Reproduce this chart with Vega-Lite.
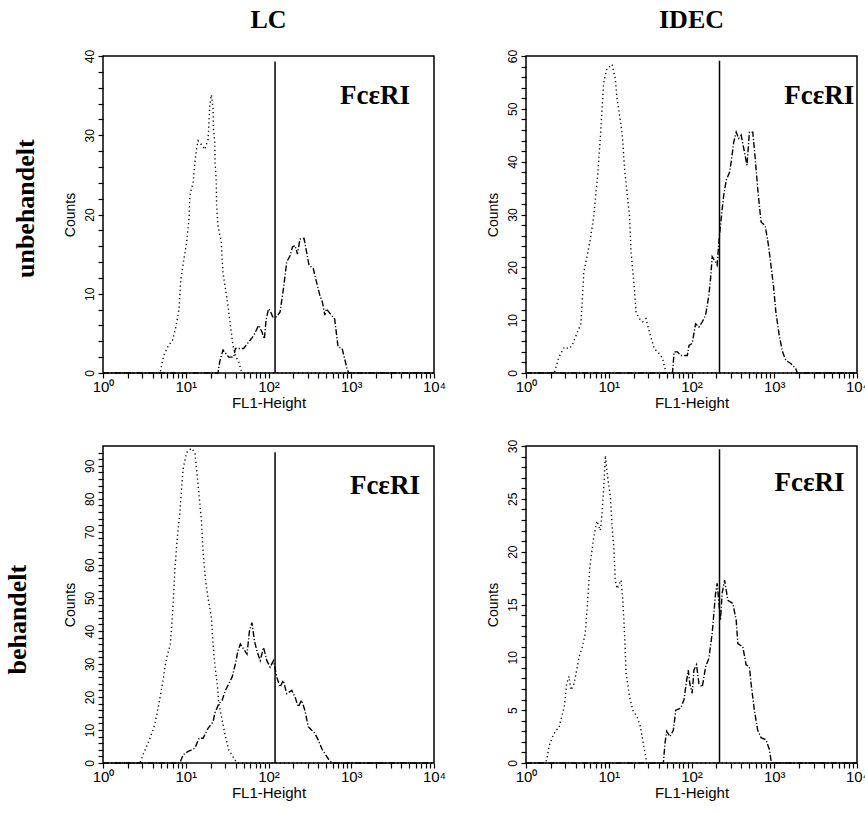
{
  "$schema": "https://vega.github.io/schema/vega-lite/v6.json",
  "padding": {"left": 5, "top": 6, "right": 0, "bottom": 0},
  "background": "white",
  "datasets": {
    "lc_u": [
      {"kurve": "Kontrolle", "fl1": 1, "counts": 0}, {"kurve": "Kontrolle", "fl1": 4.9, "counts": 0}, {"kurve": "Kontrolle", "fl1": 5.4, "counts": 2.2}, {"kurve": "Kontrolle", "fl1": 6.2, "counts": 3.5}, {"kurve": "Kontrolle", "fl1": 6.9, "counts": 4.1}, {"kurve": "Kontrolle", "fl1": 7.6, "counts": 5.8}, {"kurve": "Kontrolle", "fl1": 8.3, "counts": 8.1}, {"kurve": "Kontrolle", "fl1": 8.7, "counts": 11.7}, {"kurve": "Kontrolle", "fl1": 9.5, "counts": 14.4}, {"kurve": "Kontrolle", "fl1": 10.2, "counts": 16.3}, {"kurve": "Kontrolle", "fl1": 11, "counts": 19.7}, {"kurve": "Kontrolle", "fl1": 11.2, "counts": 22.4}, {"kurve": "Kontrolle", "fl1": 12.3, "counts": 24.1}, {"kurve": "Kontrolle", "fl1": 12.9, "counts": 26.6}, {"kurve": "Kontrolle", "fl1": 13.5, "counts": 28.3}, {"kurve": "Kontrolle", "fl1": 14.1, "counts": 29.3}, {"kurve": "Kontrolle", "fl1": 15.5, "counts": 28.8}, {"kurve": "Kontrolle", "fl1": 17, "counts": 28.2}, {"kurve": "Kontrolle", "fl1": 18.6, "counts": 29.5}, {"kurve": "Kontrolle", "fl1": 19.1, "counts": 31.7}, {"kurve": "Kontrolle", "fl1": 19.5, "counts": 33.7}, {"kurve": "Kontrolle", "fl1": 20.4, "counts": 35.1}, {"kurve": "Kontrolle", "fl1": 21.4, "counts": 33.3}, {"kurve": "Kontrolle", "fl1": 21.6, "counts": 30.8}, {"kurve": "Kontrolle", "fl1": 22.4, "counts": 29.1}, {"kurve": "Kontrolle", "fl1": 22.6, "counts": 26.6}, {"kurve": "Kontrolle", "fl1": 23.4, "counts": 24.1}, {"kurve": "Kontrolle", "fl1": 23.6, "counts": 21.1}, {"kurve": "Kontrolle", "fl1": 24.5, "counts": 18.6}, {"kurve": "Kontrolle", "fl1": 26.9, "counts": 16.5}, {"kurve": "Kontrolle", "fl1": 27.5, "counts": 14.4}, {"kurve": "Kontrolle", "fl1": 28.2, "counts": 12.7}, {"kurve": "Kontrolle", "fl1": 30.2, "counts": 10.6}, {"kurve": "Kontrolle", "fl1": 32.4, "counts": 8.5}, {"kurve": "Kontrolle", "fl1": 33.9, "counts": 6.8}, {"kurve": "Kontrolle", "fl1": 35.5, "counts": 5.2}, {"kurve": "Kontrolle", "fl1": 37.2, "counts": 3.5}, {"kurve": "Kontrolle", "fl1": 39.8, "counts": 2.2}, {"kurve": "Kontrolle", "fl1": 43.7, "counts": 1.4}, {"kurve": "Kontrolle", "fl1": 46.8, "counts": 0.3}, {"kurve": "Kontrolle", "fl1": 49, "counts": 0}, {"kurve": "Kontrolle", "fl1": 10000, "counts": 0},
      {"kurve": "FcεRI", "fl1": 1, "counts": 0}, {"kurve": "FcεRI", "fl1": 24.5, "counts": 0}, {"kurve": "FcεRI", "fl1": 25.7, "counts": 1.4}, {"kurve": "FcεRI", "fl1": 28.2, "counts": 2.9}, {"kurve": "FcεRI", "fl1": 33.1, "counts": 2.0}, {"kurve": "FcεRI", "fl1": 38, "counts": 2.0}, {"kurve": "FcεRI", "fl1": 39.8, "counts": 3.1}, {"kurve": "FcεRI", "fl1": 50.1, "counts": 3.1}, {"kurve": "FcεRI", "fl1": 57.5, "counts": 3.9}, {"kurve": "FcεRI", "fl1": 66.1, "counts": 4.7}, {"kurve": "FcεRI", "fl1": 75.9, "counts": 6.0}, {"kurve": "FcεRI", "fl1": 83.2, "counts": 5.2}, {"kurve": "FcεRI", "fl1": 89.1, "counts": 4.3}, {"kurve": "FcεRI", "fl1": 93.3, "counts": 6.6}, {"kurve": "FcεRI", "fl1": 100, "counts": 8.1}, {"kurve": "FcεRI", "fl1": 104.7, "counts": 7.9}, {"kurve": "FcεRI", "fl1": 112.2, "counts": 7.1}, {"kurve": "FcεRI", "fl1": 125.9, "counts": 7.1}, {"kurve": "FcεRI", "fl1": 138, "counts": 7.7}, {"kurve": "FcεRI", "fl1": 151.4, "counts": 10.6}, {"kurve": "FcεRI", "fl1": 166, "counts": 14.0}, {"kurve": "FcεRI", "fl1": 182, "counts": 14.8}, {"kurve": "FcεRI", "fl1": 195, "counts": 15.9}, {"kurve": "FcεRI", "fl1": 209, "counts": 16.1}, {"kurve": "FcεRI", "fl1": 224, "counts": 15.0}, {"kurve": "FcεRI", "fl1": 240, "counts": 16.9}, {"kurve": "FcεRI", "fl1": 269, "counts": 17.0}, {"kurve": "FcεRI", "fl1": 288, "counts": 15.3}, {"kurve": "FcεRI", "fl1": 309, "counts": 13.6}, {"kurve": "FcεRI", "fl1": 347, "counts": 13.2}, {"kurve": "FcεRI", "fl1": 380, "counts": 11.5}, {"kurve": "FcεRI", "fl1": 417, "counts": 9.8}, {"kurve": "FcεRI", "fl1": 447, "counts": 9.0}, {"kurve": "FcεRI", "fl1": 479, "counts": 7.3}, {"kurve": "FcεRI", "fl1": 501, "counts": 8.1}, {"kurve": "FcεRI", "fl1": 575, "counts": 7.3}, {"kurve": "FcεRI", "fl1": 631, "counts": 6.8}, {"kurve": "FcεRI", "fl1": 692, "counts": 3.3}, {"kurve": "FcεRI", "fl1": 776, "counts": 3.1}, {"kurve": "FcεRI", "fl1": 832, "counts": 1.8}, {"kurve": "FcεRI", "fl1": 891, "counts": 0.5}, {"kurve": "FcεRI", "fl1": 933, "counts": 0}, {"kurve": "FcεRI", "fl1": 10000, "counts": 0}
    ],
    "idec_u": [
      {"kurve": "Kontrolle", "fl1": 1, "counts": 0}, {"kurve": "Kontrolle", "fl1": 2.2, "counts": 0}, {"kurve": "Kontrolle", "fl1": 2.3, "counts": 1.1}, {"kurve": "Kontrolle", "fl1": 2.5, "counts": 3.0}, {"kurve": "Kontrolle", "fl1": 2.9, "counts": 4.9}, {"kurve": "Kontrolle", "fl1": 3.3, "counts": 4.6}, {"kurve": "Kontrolle", "fl1": 3.6, "counts": 5.2}, {"kurve": "Kontrolle", "fl1": 4.2, "counts": 7.8}, {"kurve": "Kontrolle", "fl1": 4.6, "counts": 9.3}, {"kurve": "Kontrolle", "fl1": 4.8, "counts": 14.1}, {"kurve": "Kontrolle", "fl1": 5.0, "counts": 19.1}, {"kurve": "Kontrolle", "fl1": 5.5, "counts": 22.3}, {"kurve": "Kontrolle", "fl1": 6.0, "counts": 25.4}, {"kurve": "Kontrolle", "fl1": 6.6, "counts": 29.8}, {"kurve": "Kontrolle", "fl1": 6.9, "counts": 33}, {"kurve": "Kontrolle", "fl1": 7.4, "counts": 38}, {"kurve": "Kontrolle", "fl1": 7.9, "counts": 44.4}, {"kurve": "Kontrolle", "fl1": 8.3, "counts": 50}, {"kurve": "Kontrolle", "fl1": 8.7, "counts": 55}, {"kurve": "Kontrolle", "fl1": 9.5, "counts": 57.6}, {"kurve": "Kontrolle", "fl1": 11, "counts": 58.4}, {"kurve": "Kontrolle", "fl1": 12, "counts": 55.7}, {"kurve": "Kontrolle", "fl1": 12.6, "counts": 51.9}, {"kurve": "Kontrolle", "fl1": 14.1, "counts": 46.9}, {"kurve": "Kontrolle", "fl1": 14.8, "counts": 43.7}, {"kurve": "Kontrolle", "fl1": 15.5, "counts": 38.7}, {"kurve": "Kontrolle", "fl1": 16.6, "counts": 34.3}, {"kurve": "Kontrolle", "fl1": 17.8, "counts": 29.8}, {"kurve": "Kontrolle", "fl1": 18.6, "counts": 22.9}, {"kurve": "Kontrolle", "fl1": 20.4, "counts": 16}, {"kurve": "Kontrolle", "fl1": 21.4, "counts": 11.5}, {"kurve": "Kontrolle", "fl1": 23.4, "counts": 10.3}, {"kurve": "Kontrolle", "fl1": 25.7, "counts": 9.7}, {"kurve": "Kontrolle", "fl1": 28.2, "counts": 10.3}, {"kurve": "Kontrolle", "fl1": 30.9, "counts": 7.8}, {"kurve": "Kontrolle", "fl1": 35.5, "counts": 4.6}, {"kurve": "Kontrolle", "fl1": 40.7, "counts": 3.7}, {"kurve": "Kontrolle", "fl1": 44.7, "counts": 2.7}, {"kurve": "Kontrolle", "fl1": 47.9, "counts": 0.8}, {"kurve": "Kontrolle", "fl1": 49, "counts": 0}, {"kurve": "Kontrolle", "fl1": 10000, "counts": 0},
      {"kurve": "FcεRI", "fl1": 1, "counts": 0}, {"kurve": "FcεRI", "fl1": 58.9, "counts": 0}, {"kurve": "FcεRI", "fl1": 61.7, "counts": 4.0}, {"kurve": "FcεRI", "fl1": 67.6, "counts": 4.0}, {"kurve": "FcεRI", "fl1": 74.1, "counts": 3.3}, {"kurve": "FcεRI", "fl1": 89.1, "counts": 3.3}, {"kurve": "FcεRI", "fl1": 93.3, "counts": 5.2}, {"kurve": "FcεRI", "fl1": 102, "counts": 5.6}, {"kurve": "FcεRI", "fl1": 112, "counts": 9.3}, {"kurve": "FcεRI", "fl1": 123, "counts": 8.7}, {"kurve": "FcεRI", "fl1": 135, "counts": 9.7}, {"kurve": "FcεRI", "fl1": 148, "counts": 10.9}, {"kurve": "FcεRI", "fl1": 162, "counts": 14.7}, {"kurve": "FcεRI", "fl1": 170, "counts": 17.9}, {"kurve": "FcεRI", "fl1": 178, "counts": 22}, {"kurve": "FcεRI", "fl1": 195, "counts": 21}, {"kurve": "FcεRI", "fl1": 204, "counts": 20.4}, {"kurve": "FcεRI", "fl1": 214, "counts": 24.8}, {"kurve": "FcεRI", "fl1": 224, "counts": 28}, {"kurve": "FcεRI", "fl1": 245, "counts": 33.6}, {"kurve": "FcεRI", "fl1": 263, "counts": 36.5}, {"kurve": "FcεRI", "fl1": 288, "counts": 38}, {"kurve": "FcεRI", "fl1": 302, "counts": 40}, {"kurve": "FcεRI", "fl1": 324, "counts": 43.7}, {"kurve": "FcεRI", "fl1": 347, "counts": 45.6}, {"kurve": "FcεRI", "fl1": 372, "counts": 44.4}, {"kurve": "FcεRI", "fl1": 398, "counts": 45}, {"kurve": "FcεRI", "fl1": 437, "counts": 41.8}, {"kurve": "FcεRI", "fl1": 468, "counts": 39.3}, {"kurve": "FcεRI", "fl1": 501, "counts": 45.6}, {"kurve": "FcεRI", "fl1": 550, "counts": 45.6}, {"kurve": "FcεRI", "fl1": 589, "counts": 40.6}, {"kurve": "FcεRI", "fl1": 631, "counts": 34.9}, {"kurve": "FcεRI", "fl1": 692, "counts": 28.6}, {"kurve": "FcεRI", "fl1": 776, "counts": 27.9}, {"kurve": "FcεRI", "fl1": 851, "counts": 24.2}, {"kurve": "FcεRI", "fl1": 912, "counts": 20.4}, {"kurve": "FcεRI", "fl1": 977, "counts": 16.6}, {"kurve": "FcεRI", "fl1": 1047, "counts": 11.5}, {"kurve": "FcεRI", "fl1": 1148, "counts": 7.1}, {"kurve": "FcεRI", "fl1": 1259, "counts": 4.0}, {"kurve": "FcεRI", "fl1": 1380, "counts": 2.4}, {"kurve": "FcεRI", "fl1": 1585, "counts": 1.8}, {"kurve": "FcεRI", "fl1": 1820, "counts": 0.8}, {"kurve": "FcεRI", "fl1": 1905, "counts": 0}, {"kurve": "FcεRI", "fl1": 10000, "counts": 0}
    ],
    "lc_b": [
      {"kurve": "Kontrolle", "fl1": 1, "counts": 0}, {"kurve": "Kontrolle", "fl1": 2.8, "counts": 0}, {"kurve": "Kontrolle", "fl1": 3.1, "counts": 3}, {"kurve": "Kontrolle", "fl1": 3.5, "counts": 6}, {"kurve": "Kontrolle", "fl1": 4.1, "counts": 10.5}, {"kurve": "Kontrolle", "fl1": 4.5, "counts": 15}, {"kurve": "Kontrolle", "fl1": 4.9, "counts": 20}, {"kurve": "Kontrolle", "fl1": 5.4, "counts": 26}, {"kurve": "Kontrolle", "fl1": 5.6, "counts": 29}, {"kurve": "Kontrolle", "fl1": 5.9, "counts": 32}, {"kurve": "Kontrolle", "fl1": 6.5, "counts": 36}, {"kurve": "Kontrolle", "fl1": 6.8, "counts": 42}, {"kurve": "Kontrolle", "fl1": 7.1, "counts": 50}, {"kurve": "Kontrolle", "fl1": 7.4, "counts": 59}, {"kurve": "Kontrolle", "fl1": 7.9, "counts": 68}, {"kurve": "Kontrolle", "fl1": 8.5, "counts": 76}, {"kurve": "Kontrolle", "fl1": 8.9, "counts": 83}, {"kurve": "Kontrolle", "fl1": 9.3, "counts": 89}, {"kurve": "Kontrolle", "fl1": 10.2, "counts": 94}, {"kurve": "Kontrolle", "fl1": 11.7, "counts": 95.3}, {"kurve": "Kontrolle", "fl1": 12.9, "counts": 94}, {"kurve": "Kontrolle", "fl1": 13.5, "counts": 89}, {"kurve": "Kontrolle", "fl1": 14.5, "counts": 81}, {"kurve": "Kontrolle", "fl1": 15.5, "counts": 73}, {"kurve": "Kontrolle", "fl1": 16.2, "counts": 64}, {"kurve": "Kontrolle", "fl1": 17.4, "counts": 55}, {"kurve": "Kontrolle", "fl1": 18.6, "counts": 50}, {"kurve": "Kontrolle", "fl1": 20.4, "counts": 44}, {"kurve": "Kontrolle", "fl1": 21.4, "counts": 36}, {"kurve": "Kontrolle", "fl1": 22.4, "counts": 30}, {"kurve": "Kontrolle", "fl1": 24, "counts": 24}, {"kurve": "Kontrolle", "fl1": 25.1, "counts": 18}, {"kurve": "Kontrolle", "fl1": 27.5, "counts": 13}, {"kurve": "Kontrolle", "fl1": 30.2, "counts": 8}, {"kurve": "Kontrolle", "fl1": 33.1, "counts": 4}, {"kurve": "Kontrolle", "fl1": 38, "counts": 1.5}, {"kurve": "Kontrolle", "fl1": 41.7, "counts": 0}, {"kurve": "Kontrolle", "fl1": 10000, "counts": 0},
      {"kurve": "FcεRI", "fl1": 1, "counts": 0}, {"kurve": "FcεRI", "fl1": 8.5, "counts": 0}, {"kurve": "FcεRI", "fl1": 9.3, "counts": 2.5}, {"kurve": "FcεRI", "fl1": 10.7, "counts": 3.5}, {"kurve": "FcεRI", "fl1": 12.9, "counts": 4.5}, {"kurve": "FcεRI", "fl1": 14.5, "counts": 7.5}, {"kurve": "FcεRI", "fl1": 16.2, "counts": 7.5}, {"kurve": "FcεRI", "fl1": 18.6, "counts": 10.5}, {"kurve": "FcεRI", "fl1": 21.4, "counts": 12.5}, {"kurve": "FcεRI", "fl1": 22.4, "counts": 15}, {"kurve": "FcεRI", "fl1": 25.1, "counts": 18}, {"kurve": "FcεRI", "fl1": 27.5, "counts": 19}, {"kurve": "FcεRI", "fl1": 30.2, "counts": 22}, {"kurve": "FcεRI", "fl1": 33.1, "counts": 24}, {"kurve": "FcεRI", "fl1": 36.3, "counts": 26}, {"kurve": "FcεRI", "fl1": 39.8, "counts": 30}, {"kurve": "FcεRI", "fl1": 42.7, "counts": 34}, {"kurve": "FcεRI", "fl1": 45.7, "counts": 36}, {"kurve": "FcεRI", "fl1": 50.1, "counts": 34.5}, {"kurve": "FcεRI", "fl1": 55, "counts": 33}, {"kurve": "FcεRI", "fl1": 58.9, "counts": 40}, {"kurve": "FcεRI", "fl1": 63.1, "counts": 42.5}, {"kurve": "FcεRI", "fl1": 67.6, "counts": 37}, {"kurve": "FcεRI", "fl1": 72.4, "counts": 34}, {"kurve": "FcεRI", "fl1": 79.4, "counts": 31}, {"kurve": "FcεRI", "fl1": 87.1, "counts": 35}, {"kurve": "FcεRI", "fl1": 95.5, "counts": 31}, {"kurve": "FcεRI", "fl1": 104.7, "counts": 29}, {"kurve": "FcεRI", "fl1": 114.8, "counts": 31}, {"kurve": "FcεRI", "fl1": 125.9, "counts": 26}, {"kurve": "FcεRI", "fl1": 138, "counts": 23}, {"kurve": "FcεRI", "fl1": 151, "counts": 25}, {"kurve": "FcεRI", "fl1": 166, "counts": 21}, {"kurve": "FcεRI", "fl1": 191, "counts": 22}, {"kurve": "FcεRI", "fl1": 209, "counts": 20}, {"kurve": "FcεRI", "fl1": 229, "counts": 17}, {"kurve": "FcεRI", "fl1": 251, "counts": 19}, {"kurve": "FcεRI", "fl1": 275, "counts": 16}, {"kurve": "FcεRI", "fl1": 302, "counts": 11}, {"kurve": "FcεRI", "fl1": 331, "counts": 10}, {"kurve": "FcεRI", "fl1": 363, "counts": 9}, {"kurve": "FcεRI", "fl1": 398, "counts": 7}, {"kurve": "FcεRI", "fl1": 447, "counts": 4}, {"kurve": "FcεRI", "fl1": 490, "counts": 2.5}, {"kurve": "FcεRI", "fl1": 537, "counts": 1}, {"kurve": "FcεRI", "fl1": 589, "counts": 0}, {"kurve": "FcεRI", "fl1": 10000, "counts": 0}
    ],
    "idec_b": [
      {"kurve": "Kontrolle", "fl1": 1, "counts": 0}, {"kurve": "Kontrolle", "fl1": 1.7, "counts": 0}, {"kurve": "Kontrolle", "fl1": 1.78, "counts": 0.3}, {"kurve": "Kontrolle", "fl1": 1.9, "counts": 1.6}, {"kurve": "Kontrolle", "fl1": 2.1, "counts": 2.5}, {"kurve": "Kontrolle", "fl1": 2.3, "counts": 3.1}, {"kurve": "Kontrolle", "fl1": 2.5, "counts": 3.3}, {"kurve": "Kontrolle", "fl1": 2.6, "counts": 3.9}, {"kurve": "Kontrolle", "fl1": 2.9, "counts": 5.3}, {"kurve": "Kontrolle", "fl1": 3.1, "counts": 7.5}, {"kurve": "Kontrolle", "fl1": 3.3, "counts": 8.2}, {"kurve": "Kontrolle", "fl1": 3.5, "counts": 6.9}, {"kurve": "Kontrolle", "fl1": 3.8, "counts": 7.5}, {"kurve": "Kontrolle", "fl1": 4.1, "counts": 8.8}, {"kurve": "Kontrolle", "fl1": 4.4, "counts": 10.1}, {"kurve": "Kontrolle", "fl1": 4.8, "counts": 11.0}, {"kurve": "Kontrolle", "fl1": 5.2, "counts": 12.3}, {"kurve": "Kontrolle", "fl1": 5.5, "counts": 14.8}, {"kurve": "Kontrolle", "fl1": 5.9, "counts": 18.5}, {"kurve": "Kontrolle", "fl1": 6.2, "counts": 19.8}, {"kurve": "Kontrolle", "fl1": 6.6, "counts": 21.4}, {"kurve": "Kontrolle", "fl1": 7.2, "counts": 22.9}, {"kurve": "Kontrolle", "fl1": 7.9, "counts": 22}, {"kurve": "Kontrolle", "fl1": 8.3, "counts": 23.6}, {"kurve": "Kontrolle", "fl1": 8.7, "counts": 26.1}, {"kurve": "Kontrolle", "fl1": 9.1, "counts": 29.1}, {"kurve": "Kontrolle", "fl1": 9.5, "counts": 27.6}, {"kurve": "Kontrolle", "fl1": 10.5, "counts": 25.1}, {"kurve": "Kontrolle", "fl1": 11, "counts": 22.3}, {"kurve": "Kontrolle", "fl1": 11.5, "counts": 20.4}, {"kurve": "Kontrolle", "fl1": 12, "counts": 17.3}, {"kurve": "Kontrolle", "fl1": 12.6, "counts": 16.5}, {"kurve": "Kontrolle", "fl1": 14.1, "counts": 17.3}, {"kurve": "Kontrolle", "fl1": 14.8, "counts": 15.4}, {"kurve": "Kontrolle", "fl1": 15.5, "counts": 12.3}, {"kurve": "Kontrolle", "fl1": 16.2, "counts": 8.5}, {"kurve": "Kontrolle", "fl1": 17.8, "counts": 6.3}, {"kurve": "Kontrolle", "fl1": 19.5, "counts": 5.0}, {"kurve": "Kontrolle", "fl1": 21.9, "counts": 4.4}, {"kurve": "Kontrolle", "fl1": 24, "counts": 3.5}, {"kurve": "Kontrolle", "fl1": 25.7, "counts": 2.2}, {"kurve": "Kontrolle", "fl1": 27.5, "counts": 0.9}, {"kurve": "Kontrolle", "fl1": 28.8, "counts": 0}, {"kurve": "Kontrolle", "fl1": 10000, "counts": 0},
      {"kurve": "FcεRI", "fl1": 1, "counts": 0}, {"kurve": "FcεRI", "fl1": 45.7, "counts": 0}, {"kurve": "FcεRI", "fl1": 47.9, "counts": 1.9}, {"kurve": "FcεRI", "fl1": 50.1, "counts": 3.0}, {"kurve": "FcεRI", "fl1": 55, "counts": 2.5}, {"kurve": "FcεRI", "fl1": 60.3, "counts": 3.1}, {"kurve": "FcεRI", "fl1": 64.6, "counts": 5.0}, {"kurve": "FcεRI", "fl1": 74.1, "counts": 5.2}, {"kurve": "FcεRI", "fl1": 81.3, "counts": 6.0}, {"kurve": "FcεRI", "fl1": 85.1, "counts": 7.2}, {"kurve": "FcεRI", "fl1": 91.2, "counts": 8.8}, {"kurve": "FcεRI", "fl1": 95.5, "counts": 7.5}, {"kurve": "FcεRI", "fl1": 102, "counts": 6.6}, {"kurve": "FcεRI", "fl1": 107, "counts": 8.8}, {"kurve": "FcεRI", "fl1": 115, "counts": 9.3}, {"kurve": "FcεRI", "fl1": 123, "counts": 7.5}, {"kurve": "FcεRI", "fl1": 135, "counts": 7.2}, {"kurve": "FcεRI", "fl1": 148, "counts": 9.1}, {"kurve": "FcεRI", "fl1": 162, "counts": 9.9}, {"kurve": "FcεRI", "fl1": 178, "counts": 12.3}, {"kurve": "FcεRI", "fl1": 186, "counts": 14.1}, {"kurve": "FcεRI", "fl1": 195, "counts": 16.0}, {"kurve": "FcεRI", "fl1": 204, "counts": 17.0}, {"kurve": "FcεRI", "fl1": 224, "counts": 13.5}, {"kurve": "FcεRI", "fl1": 234, "counts": 16.0}, {"kurve": "FcεRI", "fl1": 251, "counts": 17.3}, {"kurve": "FcεRI", "fl1": 275, "counts": 15.4}, {"kurve": "FcεRI", "fl1": 316, "counts": 15.1}, {"kurve": "FcεRI", "fl1": 347, "counts": 13.5}, {"kurve": "FcεRI", "fl1": 363, "counts": 11.3}, {"kurve": "FcεRI", "fl1": 417, "counts": 11.0}, {"kurve": "FcεRI", "fl1": 457, "counts": 9.3}, {"kurve": "FcεRI", "fl1": 501, "counts": 9.1}, {"kurve": "FcεRI", "fl1": 525, "counts": 7.5}, {"kurve": "FcεRI", "fl1": 575, "counts": 5.0}, {"kurve": "FcεRI", "fl1": 631, "counts": 3.1}, {"kurve": "FcεRI", "fl1": 692, "counts": 2.4}, {"kurve": "FcεRI", "fl1": 794, "counts": 2.2}, {"kurve": "FcεRI", "fl1": 871, "counts": 1.3}, {"kurve": "FcεRI", "fl1": 912, "counts": 0.3}, {"kurve": "FcεRI", "fl1": 933, "counts": 0}, {"kurve": "FcεRI", "fl1": 10000, "counts": 0}
    ],
    "gates": [
      {"panel": "LC unbehandelt", "gate": 120, "top": 39.3, "marker": "FcεRI"},
      {"panel": "IDEC unbehandelt", "gate": 218, "top": 59.1, "marker": "FcεRI"},
      {"panel": "LC behandelt", "gate": 120, "top": 94.1, "marker": "FcεRI"},
      {"panel": "IDEC behandelt", "gate": 218, "top": 29.7, "marker": "FcεRI"}
    ]
  },
  "spacing": 27,
  "vconcat": [
    {
      "title": {"text": "unbehandelt", "orient": "left", "anchor": "middle", "fontSize": 26, "offset": 23},
      "spacing": 38,
      "hconcat": [
        {
          "width": 331, "height": 317,
          "title": {"text": "LC", "fontSize": 26, "offset": 16},
          "resolve": {"axis": {"x": "independent", "y": "independent"}},
          "layer": [
            {
              "data": {"name": "lc_u"},
              "mark": {"type": "line", "color": "black", "strokeWidth": 1.4, "interpolate": "linear"},
              "encoding": {
                "x": {"field": "fl1", "type": "quantitative", "scale": {"type": "log", "domain": [1, 10000], "nice": false}, "axis": {"orient": "bottom", "values": [1,2,3,4,5,6,7,8,9,10,20,30,40,50,60,70,80,90,100,200,300,400,500,600,700,800,900,1000,2000,3000,4000,5000,6000,7000,8000,9000,10000], "labelExpr": "indexof([1,10,100,1000,10000], datum.value) >= 0 ? '10' + ['⁰','¹','²','³','⁴'][round(log(datum.value)/LN10)] : ''", "labelOverlap": false, "labelBound": false, "tickSize": 5, "title": "FL1-Height"}},
                "y": {"field": "counts", "type": "quantitative", "scale": {"domain": [0, 40], "nice": false}, "axis": {"orient": "left", "values": [0,2,4,6,8,10,12,14,16,18,20,22,24,26,28,30,32,34,36,38,40], "labelExpr": "datum.value % 10 == 0 ? datum.label : ''", "labelOverlap": false, "labelBound": false, "tickSize": 5, "title": "Counts", "labelAngle": 270, "labelAlign": "center", "labelBaseline": "bottom"}},
                "strokeDash": {"field": "kurve", "type": "nominal", "scale": {"domain": ["Kontrolle", "FcεRI"], "range": [[1.2, 3], [6, 2, 1.2, 2]]}, "legend": null}
              }
            },
            {
              "data": {"name": "gates"},
              "transform": [{"filter": "datum.panel == 'LC unbehandelt'"}],
              "mark": {"type": "rule", "color": "black", "strokeWidth": 1.5},
              "encoding": {
                "x": {"field": "gate", "type": "quantitative", "scale": {"type": "log", "domain": [1, 10000], "nice": false}, "axis": null},
                "y": {"field": "top", "type": "quantitative", "scale": {"domain": [0, 40], "nice": false}, "axis": null},
                "y2": {"datum": 0}
              }
            },
            {
              "data": {"name": "gates"},
              "transform": [{"filter": "datum.panel == 'LC unbehandelt'"}],
              "mark": {"type": "text", "font": "Liberation Serif", "fontSize": 27, "fontWeight": "bold", "align": "right", "baseline": "middle", "color": "black"},
              "encoding": {
                "x": {"datum": 5130, "type": "quantitative", "scale": {"type": "log", "domain": [1, 10000], "nice": false}, "axis": null},
                "y": {"datum": 34.9, "type": "quantitative", "scale": {"domain": [0, 40], "nice": false}, "axis": null},
                "text": {"field": "marker", "type": "nominal"}
              }
            }
          ]
        },
        {
          "width": 331, "height": 317,
          "title": {"text": "IDEC", "fontSize": 26, "offset": 16},
          "resolve": {"axis": {"x": "independent", "y": "independent"}},
          "layer": [
            {
              "data": {"name": "idec_u"},
              "mark": {"type": "line", "color": "black", "strokeWidth": 1.4, "interpolate": "linear"},
              "encoding": {
                "x": {"field": "fl1", "type": "quantitative", "scale": {"type": "log", "domain": [1, 10000], "nice": false}, "axis": {"orient": "bottom", "values": [1,2,3,4,5,6,7,8,9,10,20,30,40,50,60,70,80,90,100,200,300,400,500,600,700,800,900,1000,2000,3000,4000,5000,6000,7000,8000,9000,10000], "labelExpr": "indexof([1,10,100,1000,10000], datum.value) >= 0 ? '10' + ['⁰','¹','²','³','⁴'][round(log(datum.value)/LN10)] : ''", "labelOverlap": false, "labelBound": false, "tickSize": 5, "title": "FL1-Height"}},
                "y": {"field": "counts", "type": "quantitative", "scale": {"domain": [0, 60], "nice": false}, "axis": {"orient": "left", "values": [0,2,4,6,8,10,12,14,16,18,20,22,24,26,28,30,32,34,36,38,40,42,44,46,48,50,52,54,56,58,60], "labelExpr": "datum.value % 10 == 0 ? datum.label : ''", "labelOverlap": false, "labelBound": false, "tickSize": 5, "title": "Counts", "labelAngle": 270, "labelAlign": "center", "labelBaseline": "bottom"}},
                "strokeDash": {"field": "kurve", "type": "nominal", "scale": {"domain": ["Kontrolle", "FcεRI"], "range": [[1.2, 3], [6, 2, 1.2, 2]]}, "legend": null}
              }
            },
            {
              "data": {"name": "gates"},
              "transform": [{"filter": "datum.panel == 'IDEC unbehandelt'"}],
              "mark": {"type": "rule", "color": "black", "strokeWidth": 1.5},
              "encoding": {
                "x": {"field": "gate", "type": "quantitative", "scale": {"type": "log", "domain": [1, 10000], "nice": false}, "axis": null},
                "y": {"field": "top", "type": "quantitative", "scale": {"domain": [0, 60], "nice": false}, "axis": null},
                "y2": {"datum": 0}
              }
            },
            {
              "data": {"name": "gates"},
              "transform": [{"filter": "datum.panel == 'IDEC unbehandelt'"}],
              "mark": {"type": "text", "font": "Liberation Serif", "fontSize": 27, "fontWeight": "bold", "align": "right", "baseline": "middle", "color": "black"},
              "encoding": {
                "x": {"datum": 9300, "type": "quantitative", "scale": {"type": "log", "domain": [1, 10000], "nice": false}, "axis": null},
                "y": {"datum": 52.4, "type": "quantitative", "scale": {"domain": [0, 60], "nice": false}, "axis": null},
                "text": {"field": "marker", "type": "nominal"}
              }
            }
          ]
        }
      ]
    },
    {
      "title": {"text": "behandelt", "orient": "left", "anchor": "middle", "fontSize": 26, "offset": 31},
      "spacing": 38,
      "hconcat": [
        {
          "width": 331, "height": 317,
          "resolve": {"axis": {"x": "independent", "y": "independent"}},
          "layer": [
            {
              "data": {"name": "lc_b"},
              "mark": {"type": "line", "color": "black", "strokeWidth": 1.4, "interpolate": "linear"},
              "encoding": {
                "x": {"field": "fl1", "type": "quantitative", "scale": {"type": "log", "domain": [1, 10000], "nice": false}, "axis": {"orient": "bottom", "values": [1,2,3,4,5,6,7,8,9,10,20,30,40,50,60,70,80,90,100,200,300,400,500,600,700,800,900,1000,2000,3000,4000,5000,6000,7000,8000,9000,10000], "labelExpr": "indexof([1,10,100,1000,10000], datum.value) >= 0 ? '10' + ['⁰','¹','²','³','⁴'][round(log(datum.value)/LN10)] : ''", "labelOverlap": false, "labelBound": false, "tickSize": 5, "title": "FL1-Height"}},
                "y": {"field": "counts", "type": "quantitative", "scale": {"domain": [0, 96], "nice": false}, "axis": {"orient": "left", "values": [0,2,4,6,8,10,12,14,16,18,20,22,24,26,28,30,32,34,36,38,40,42,44,46,48,50,52,54,56,58,60,62,64,66,68,70,72,74,76,78,80,82,84,86,88,90,92,94], "labelExpr": "datum.value % 10 == 0 ? datum.label : ''", "labelOverlap": false, "labelBound": false, "tickSize": 5, "title": "Counts", "labelAngle": 270, "labelAlign": "center", "labelBaseline": "bottom"}},
                "strokeDash": {"field": "kurve", "type": "nominal", "scale": {"domain": ["Kontrolle", "FcεRI"], "range": [[1.2, 3], [6, 2, 1.2, 2]]}, "legend": null}
              }
            },
            {
              "data": {"name": "gates"},
              "transform": [{"filter": "datum.panel == 'LC behandelt'"}],
              "mark": {"type": "rule", "color": "black", "strokeWidth": 1.5},
              "encoding": {
                "x": {"field": "gate", "type": "quantitative", "scale": {"type": "log", "domain": [1, 10000], "nice": false}, "axis": null},
                "y": {"field": "top", "type": "quantitative", "scale": {"domain": [0, 96], "nice": false}, "axis": null},
                "y2": {"datum": 0}
              }
            },
            {
              "data": {"name": "gates"},
              "transform": [{"filter": "datum.panel == 'LC behandelt'"}],
              "mark": {"type": "text", "font": "Liberation Serif", "fontSize": 27, "fontWeight": "bold", "align": "right", "baseline": "middle", "color": "black"},
              "encoding": {
                "x": {"datum": 6760, "type": "quantitative", "scale": {"type": "log", "domain": [1, 10000], "nice": false}, "axis": null},
                "y": {"datum": 84, "type": "quantitative", "scale": {"domain": [0, 96], "nice": false}, "axis": null},
                "text": {"field": "marker", "type": "nominal"}
              }
            }
          ]
        },
        {
          "width": 331, "height": 317,
          "resolve": {"axis": {"x": "independent", "y": "independent"}},
          "layer": [
            {
              "data": {"name": "idec_b"},
              "mark": {"type": "line", "color": "black", "strokeWidth": 1.4, "interpolate": "linear"},
              "encoding": {
                "x": {"field": "fl1", "type": "quantitative", "scale": {"type": "log", "domain": [1, 10000], "nice": false}, "axis": {"orient": "bottom", "values": [1,2,3,4,5,6,7,8,9,10,20,30,40,50,60,70,80,90,100,200,300,400,500,600,700,800,900,1000,2000,3000,4000,5000,6000,7000,8000,9000,10000], "labelExpr": "indexof([1,10,100,1000,10000], datum.value) >= 0 ? '10' + ['⁰','¹','²','³','⁴'][round(log(datum.value)/LN10)] : ''", "labelOverlap": false, "labelBound": false, "tickSize": 5, "title": "FL1-Height"}},
                "y": {"field": "counts", "type": "quantitative", "scale": {"domain": [0, 30], "nice": false}, "axis": {"orient": "left", "values": [0,1,2,3,4,5,6,7,8,9,10,11,12,13,14,15,16,17,18,19,20,21,22,23,24,25,26,27,28,29,30], "labelExpr": "datum.value % 5 == 0 ? datum.label : ''", "labelOverlap": false, "labelBound": false, "tickSize": 5, "title": "Counts", "labelAngle": 270, "labelAlign": "center", "labelBaseline": "bottom"}},
                "strokeDash": {"field": "kurve", "type": "nominal", "scale": {"domain": ["Kontrolle", "FcεRI"], "range": [[1.2, 3], [6, 2, 1.2, 2]]}, "legend": null}
              }
            },
            {
              "data": {"name": "gates"},
              "transform": [{"filter": "datum.panel == 'IDEC behandelt'"}],
              "mark": {"type": "rule", "color": "black", "strokeWidth": 1.5},
              "encoding": {
                "x": {"field": "gate", "type": "quantitative", "scale": {"type": "log", "domain": [1, 10000], "nice": false}, "axis": null},
                "y": {"field": "top", "type": "quantitative", "scale": {"domain": [0, 30], "nice": false}, "axis": null},
                "y2": {"datum": 0}
              }
            },
            {
              "data": {"name": "gates"},
              "transform": [{"filter": "datum.panel == 'IDEC behandelt'"}],
              "mark": {"type": "text", "font": "Liberation Serif", "fontSize": 27, "fontWeight": "bold", "align": "right", "baseline": "middle", "color": "black"},
              "encoding": {
                "x": {"datum": 7080, "type": "quantitative", "scale": {"type": "log", "domain": [1, 10000], "nice": false}, "axis": null},
                "y": {"datum": 26.5, "type": "quantitative", "scale": {"domain": [0, 30], "nice": false}, "axis": null},
                "text": {"field": "marker", "type": "nominal"}
              }
            }
          ]
        }
      ]
    }
  ],
  "config": {
    "view": {"stroke": "black", "strokeWidth": 1.5},
    "axis": {"grid": false, "domain": false, "tickColor": "black", "tickWidth": 1.2, "labelColor": "black", "titleColor": "black", "labelFont": "Liberation Sans", "titleFont": "Liberation Sans", "titleFontWeight": "normal", "titleFontSize": 14, "labelFontSize": 12, "labelPadding": 2, "titlePadding": 6, "labelOverlap": false, "labelFlush": false},
    "axisX": {"labelFontSize": 15, "labelPadding": 1, "titlePadding": 1, "titleFontSize": 15},
    "title": {"font": "Liberation Serif", "fontWeight": "bold", "fontSize": 26, "color": "black"}
  }
}
